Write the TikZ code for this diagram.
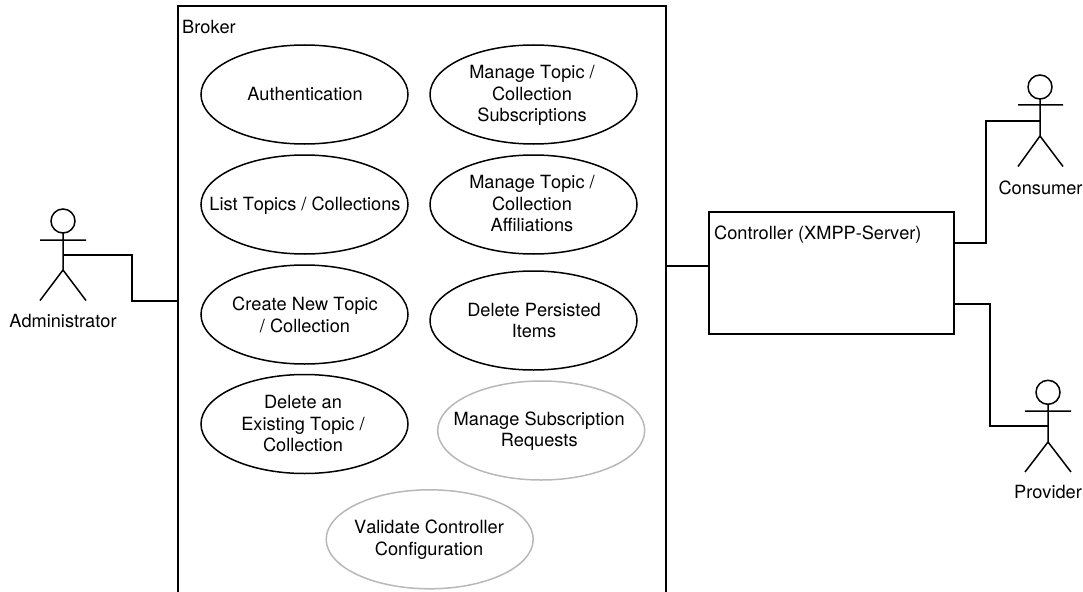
\documentclass[tikz,border=0pt]{standalone}
\usepackage{fontspec}
\setmainfont[Kerning=Off]{TeX Gyre Heros}
\usetikzlibrary{shapes.geometric}
\definecolor{softgray}{gray}{0.72}
\tikzset{
  casetext/.style={inner sep=0pt,outer sep=0pt,align=center,font=\fontsize{18.2}{21.5}\selectfont},
  usecase/.style={ellipse,draw=black,line width=1.5pt,minimum width=207pt,minimum height=99pt,inner sep=0pt,outer sep=0pt},
  softcase/.style={usecase,draw=softgray},
  boxlabel/.style={inner sep=0pt,anchor=base west,font=\fontsize{18.2}{21.5}\selectfont},
  actorlabel/.style={inner sep=0pt,anchor=base,font=\fontsize{18.2}{21.5}\selectfont},
  edge/.style={line width=1.5pt,line join=miter},
  head/.style={circle,draw=black,line width=1.5pt,minimum size=24pt,inner sep=0pt,outer sep=0pt}
}
\begin{document}
\begin{tikzpicture}[x=1pt,y=-1pt]
\useasboundingbox (0,0) rectangle (1083,591);
% Broker
\coordinate (bTL) at (178,6);
\coordinate (bTR) at (666,6);
\coordinate (bBL) at (178,595);
\coordinate (bBR) at (666,595);
\draw[edge] (bBL) -- (bTL) -- (bTR) -- (bBR);
\node[boxlabel] (brokerlabel) at (182,33.5) {Broker};
% use cases
\node[usecase,label={[casetext,xshift=0.5pt,yshift=0.5pt]center:{Authentication}}] (auth) at (304.5,94.5) {};
\node[usecase,label={[casetext,xshift=-1.5pt,yshift=-1pt]center:{Manage Topic /\\Collection\\Subscriptions}}] (subs) at (533.5,94.5) {};
\node[usecase,label={[casetext,xshift=0.5pt,yshift=-1.5pt]center:{List Topics / Collections}}] (list) at (304.5,204.5) {};
\node[usecase,label={[casetext,xshift=-1.5pt,yshift=0.5pt]center:{Manage Topic /\\Collection\\Affiliations}}] (affi) at (533.5,204.5) {};
\node[usecase,label={[casetext,xshift=0.5pt,yshift=-0.5pt]center:{Create New Topic\\/ Collection}}] (create) at (304.5,314.5) {};
\node[usecase,label={[casetext,xshift=0.5pt,yshift=0pt]center:{Delete Persisted\\Items}}] (delp) at (533.5,320.5) {};
\node[usecase,label={[casetext,xshift=-1.5pt,yshift=0pt]center:{Delete an\\Existing Topic /\\Collection}}] (dele) at (304.5,424) {};
\node[softcase,label={[casetext,xshift=-2pt,yshift=-0.5pt]center:{Manage Subscription\\Requests}}] (msr) at (541.2,430.5) {};
\node[softcase,label={[casetext,xshift=-0.7pt,yshift=-0.5pt]center:{Validate Controller\\Configuration}}] (val) at (429.7,539.3) {};
% Controller
\node[draw=black,line width=1.5pt,minimum width=245pt,minimum height=122pt,inner sep=0pt,outer sep=0pt,anchor=north west] (ctrl) at (709,212) {};
\node[boxlabel] (ctrllabel) at (714,239) {Controller (XMPP-Server)};
% Actors
\node[head] (ahead) at (63,221) {};
\coordinate (aarmL) at (40,240); \coordinate (aarmR) at (86,240);
\coordinate (ahip) at (63,270); \coordinate (alegL) at (40,300.5); \coordinate (alegR) at (86,300.5);
\coordinate (aport) at (63,255);
\draw[edge] (ahead.south) -- (ahip) (aarmL) -- (aarmR) (alegL) -- (ahip) -- (alegR);
\node[actorlabel] (alabel) at (63,327) {Administrator};
\node[head] (chead) at (1040,87) {};
\coordinate (carmL) at (1018,105); \coordinate (carmR) at (1063,105);
\coordinate (chip) at (1040,136); \coordinate (clegL) at (1018,166.5); \coordinate (clegR) at (1063,166.5);
\coordinate (cport) at (1040,121);
\draw[edge] (chead.south) -- (chip) (carmL) -- (carmR) (clegL) -- (chip) -- (clegR);
\node[actorlabel] (clabel) at (1040.5,194) {Consumer};
\node[head] (phead) at (1048,392.3) {};
\coordinate (parmL) at (1025,411); \coordinate (parmR) at (1071,411);
\coordinate (phip) at (1048,442); \coordinate (plegL) at (1025,472); \coordinate (plegR) at (1071,472);
\coordinate (pport) at (1048,426);
\draw[edge] (phead.south) -- (phip) (parmL) -- (parmR) (plegL) -- (phip) -- (plegR);
\node[actorlabel] (plabel) at (1048,498) {Provider};
% connectors
\coordinate (bL) at (178,301); \coordinate (bR) at (666,266);
\coordinate (cIn) at (709,266); \coordinate (cTop) at (954,243); \coordinate (cBot) at (954,304);
\draw[edge] (aport) -- (132,255) -- (132,301) -- (bL);
\draw[edge] (bR) -- (cIn);
\draw[edge] (cport) -- (986,121) -- (986,243) -- (cTop);
\draw[edge] (pport) -- (990,426) -- (990,304) -- (cBot);
\end{tikzpicture}
\end{document}
